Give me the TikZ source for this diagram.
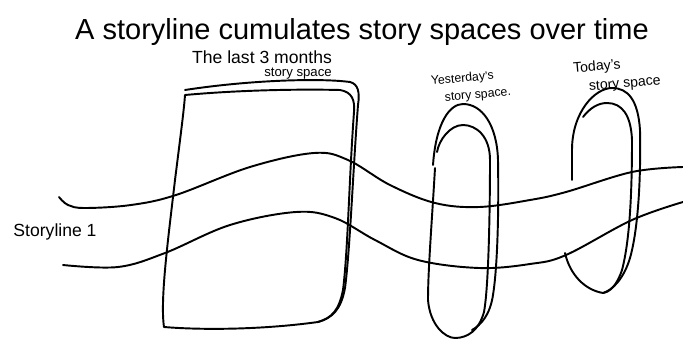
\documentclass[tikz,border=0pt]{standalone}
\usepackage{fontspec}
\setmainfont{Liberation Sans}
\usetikzlibrary{positioning}

\tikzset{
  pen/.style={line width=1.1pt, line cap=round, line join=round},
  scrawl/.style={inner sep=0pt, font=\fontsize{#1}{#1}\selectfont},
  scrawl/.default=10
}

\begin{document}
\begin{tikzpicture}[x=0.02cm, y=-0.02cm, pen]
        \useasboundingbox (0,0) rectangle (683,341);
        \node[scrawl=16.5, anchor=base] (title) at (362,40) {A storyline cumulates story spaces over time};
        % last 3 months
        \node[scrawl=10] (monthsA) at (262,57) {The last 3 months};
        \node[scrawl=7.5] (monthsB) at (298,73.5) {story space};
        \draw (185,90) .. controls (250,80) and (320,78) .. (350,82) .. controls (358,84) and (360,92) .. (358,105)
              .. controls (353,170) and (350,250) .. (345,288) .. controls (341,310) and (332,318) .. (318,322);
        \draw (185,95) .. controls (240,90) and (300,89) .. (340,90) .. controls (352,92) and (355,100) .. (354,112)
              .. controls (349,180) and (348,250) .. (343,290) .. controls (339,310) and (332,318) .. (318,322)
              .. controls (260,330) and (200,330) .. (164,327) .. controls (160,300) and (168,240) .. (175,180)
              .. controls (180,140) and (184,110) .. (185,95);
        % yesterday
        \node[scrawl=7, rotate=5, align=left] (yest) at (471,87) {Yesterday's\\[3pt]\hspace*{1em}story space.};
        \draw (433,165) .. controls (436,122) and (450,104) .. (463,104) .. controls (482,104) and (497,125) .. (498,160)
              .. controls (499,220) and (497,270) .. (493,295) .. controls (490,315) and (481,325) .. (472,330);
        \draw (435,168) .. controls (432,220) and (428,270) .. (428,300) .. controls (430,325) and (445,338) .. (455,338)
              .. controls (468,338) and (479,330) .. (484,312) .. controls (489,285) and (490,200) .. (490,160)
              .. controls (490,136) and (476,125) .. (463,125) .. controls (450,125) and (439,140) .. (437,152);
        % today
        \node[scrawl=8, rotate=5, align=left] (today) at (617,75) {Today's\\[3pt]\hspace*{1em}story space};
        \draw (572,180) -- (572,150) .. controls (572,112) and (595,88) .. (612,88) .. controls (628,88) and (638,100) .. (640,130)
              .. controls (641,180) and (638,230) .. (630,258) .. controls (624,278) and (613,290) .. (603,293);
        \draw (583,117) .. controls (590,108) and (598,103) .. (607,103) .. controls (622,103) and (631,115) .. (632,140)
              .. controls (632,190) and (630,240) .. (622,270) .. controls (617,285) and (610,292) .. (603,293)
              .. controls (585,290) and (570,275) .. (565,253);
        % storyline 1
        \node[scrawl=10] (story) at (55,232) {Storyline 1};
        \draw plot[smooth, tension=0.6] coordinates {(59,197) (68,205) (85,208) (131,205) (176,195) (250,167) (314,153)
              (348,160) (390,185) (435,203) (479,207) (530,200) (566,192) (632,172) (683,167)};
        \draw plot[smooth, tension=0.6] coordinates {(63,265) (118,267) (165,253) (230,225) (296,212) (335,218)
              (375,240) (418,260) (479,268) (530,264) (566,255) (632,220) (683,202)};
    \end{tikzpicture}
\end{document}
